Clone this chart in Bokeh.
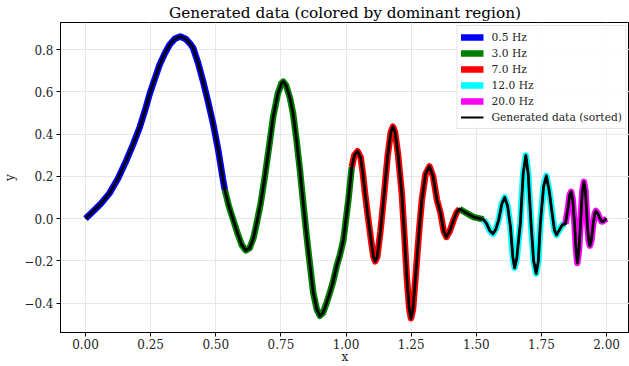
from bokeh.plotting import figure
from bokeh.models import Legend, LegendItem, FixedTicker, CustomJSTickFormatter, Range1d
from bokeh.embed import file_html
from bokeh.resources import INLINE

# ---- data ----
x_vals = [
    0.000, 0.028, 0.060, 0.092, 0.125, 0.157, 0.183, 0.208, 0.228, 0.246,
    0.266, 0.285, 0.305, 0.323, 0.343, 0.364, 0.385, 0.400, 0.413, 0.432,
    0.451, 0.470, 0.490, 0.510, 0.528, 0.535,
    0.550, 0.567, 0.585, 0.600, 0.615, 0.630, 0.645, 0.657, 0.672, 0.688,
    0.704, 0.720, 0.738, 0.752, 0.759, 0.770, 0.785, 0.797, 0.810, 0.823,
    0.836, 0.849, 0.862, 0.874, 0.888, 0.900, 0.912, 0.925, 0.938, 0.950,
    0.964, 0.977, 0.990, 1.009, 1.022,
    1.032, 1.044, 1.056, 1.064, 1.073, 1.085, 1.098, 1.105, 1.112, 1.120,
    1.132, 1.144, 1.160, 1.172, 1.180, 1.188, 1.200, 1.214, 1.225, 1.233,
    1.242, 1.249, 1.257, 1.272, 1.281, 1.291, 1.305, 1.320, 1.334, 1.349,
    1.362, 1.375, 1.385, 1.398, 1.413, 1.425, 1.436,
    1.450, 1.464, 1.490, 1.515, 1.528,
    1.540, 1.552, 1.564, 1.575, 1.586, 1.598, 1.609, 1.620, 1.631, 1.640,
    1.647, 1.655, 1.669, 1.680, 1.690, 1.699, 1.710, 1.720, 1.730, 1.738,
    1.746, 1.758, 1.769, 1.780, 1.791, 1.800, 1.808, 1.818, 1.830, 1.842,
    1.852, 1.858, 1.864, 1.870, 1.877, 1.883, 1.888, 1.894, 1.900, 1.907,
    1.913, 1.919, 1.926, 1.931, 1.936, 1.942, 1.949, 1.955, 1.959, 1.966,
    1.974, 1.980, 1.985, 1.992, 2.000,
]
y_vals = [
    0.000, 0.033, 0.072, 0.120, 0.190, 0.276, 0.352, 0.432, 0.510, 0.589,
    0.662, 0.730, 0.783, 0.823, 0.851, 0.862, 0.850, 0.830, 0.808, 0.737,
    0.651, 0.555, 0.448, 0.320, 0.182, 0.135,
    0.060, -0.006, -0.075, -0.125, -0.150, -0.140, -0.090, -0.022, 0.070, 0.197,
    0.335, 0.479, 0.590, 0.640, 0.648, 0.630, 0.570, 0.495, 0.370, 0.229,
    0.070, -0.085, -0.225, -0.350, -0.430, -0.460, -0.445, -0.400, -0.350, -0.300,
    -0.225, -0.170, -0.100, 0.088, 0.244,
    0.300, 0.319, 0.290, 0.220, 0.119, 0.000, -0.120, -0.180, -0.202, -0.180,
    -0.060, 0.088, 0.300, 0.410, 0.435, 0.410, 0.300, 0.119, -0.100, -0.272,
    -0.420, -0.472, -0.430, -0.194, -0.050, 0.088, 0.210, 0.247, 0.200, 0.088,
    0.030, -0.060, -0.087, -0.060, -0.006, 0.030, 0.046,
    0.035, 0.025, 0.007, 0.000, -0.005,
    -0.025, -0.058, -0.072, -0.050, -0.006, 0.070, 0.100, 0.060, -0.038, -0.180,
    -0.233, -0.190, -0.022, 0.213, 0.299, 0.213, -0.022, -0.200, -0.260, -0.200,
    -0.022, 0.150, 0.202, 0.130, 0.025, -0.055, -0.077, -0.055, -0.030, -0.025,
    0.050, 0.110, 0.127, 0.090, -0.022, -0.150, -0.210, -0.150, -0.022, 0.130,
    0.174, 0.130, -0.022, -0.100, -0.128, -0.100, -0.022, 0.025, 0.036, 0.025,
    0.002, -0.012, -0.014, -0.007, 0.000,
]

region_names = ["0.5 Hz", "3.0 Hz", "7.0 Hz", "12.0 Hz", "20.0 Hz"]
region_colors = ["#0000ff", "#008000", "#ff0000", "#00ffff", "#ff00ff"]
seg_start = [0.000, 0.535, 1.022, 1.436, 1.528, 1.842]
seg_end = [0.535, 1.022, 1.436, 1.528, 1.842, 2.000]
seg_region = [0, 1, 2, 1, 3, 4]

x_ticks = [0.0, 0.25, 0.5, 0.75, 1.0, 1.25, 1.5, 1.75, 2.0]
y_ticks = [-0.4, -0.2, 0.0, 0.2, 0.4, 0.6, 0.8]

FONT = "DejaVu Serif"

p = figure(
    width=629, height=366,
    output_backend="svg", toolbar_location=None,
    x_range=Range1d(-0.096, 2.088), y_range=Range1d(-0.539, 0.928),
    title="Generated data (colored by dominant region)",
    min_border_left=0, min_border_right=0, min_border_top=0, min_border_bottom=0,
)

p.title.text_font = FONT
p.title.text_font_size = "15.3px"
p.title.text_font_style = "normal"
p.title.align = "center"
p.title.standoff = 2
p.title.text_color = "black"

p.background_fill_color = "white"
p.border_fill_color = "white"
p.outline_line_color = "black"
p.outline_line_width = 1

for ax in (p.xaxis[0], p.yaxis[0]):
    ax.axis_line_color = "black"
    ax.axis_line_width = 1
    ax.major_tick_line_color = "black"
    ax.major_tick_in = 0
    ax.major_tick_out = 4
    ax.minor_tick_line_color = None
    ax.major_label_text_font = FONT
    ax.major_label_text_font_size = "12px"
    ax.major_label_text_color = "#222222"
    ax.axis_label_text_font = FONT
    ax.axis_label_text_font_size = "12px"
    ax.axis_label_text_font_style = "normal"
    ax.axis_label_text_color = "#222222"

p.xaxis.axis_label = "x"
p.yaxis.axis_label = "y"
p.xaxis.ticker = FixedTicker(ticks=x_ticks)
p.yaxis.ticker = FixedTicker(ticks=y_ticks)
p.xaxis.formatter = CustomJSTickFormatter(code="return tick.toFixed(2).replace('-', '\\u2212');")
p.yaxis.formatter = CustomJSTickFormatter(code="return tick.toFixed(1).replace('-', '\\u2212');")
p.xaxis.major_label_standoff = 2
p.xaxis.axis_label_standoff = -2
p.yaxis.major_label_standoff = 3
p.yaxis.axis_label_standoff = 4

p.grid.grid_line_color = "#e7e7e7"
p.grid.grid_line_width = 1

# colored bands per dominant region
band_renderers = []
for s, e, r in zip(seg_start, seg_end, seg_region):
    xs = [x for x in x_vals if s - 1e-9 <= x <= e + 1e-9]
    ys = [y for x, y in zip(x_vals, y_vals) if s - 1e-9 <= x <= e + 1e-9]
    rr = p.line(xs, ys, line_color=region_colors[r], line_width=6.5,
                line_join="round", line_cap="butt")
    band_renderers.append((r, rr))

# thin black line (used for the legend entry), covered by the main line
legend_line = p.line(x_vals, y_vals, line_color="black", line_width=1.8,
                     line_join="round")
# black data line on top
main_line = p.line(x_vals, y_vals, line_color="black", line_width=2.8,
                   line_join="round")

# legend entries (first band segment of each region)
items = []
for idx, name in enumerate(region_names):
    rr = [b for r, b in band_renderers if r == idx][0]
    items.append(LegendItem(label=name, renderers=[rr]))
items.append(LegendItem(label="Generated data (sorted)", renderers=[legend_line]))

legend = Legend(items=items, location="top_right")
legend.margin = 3
legend.padding = 3
legend.spacing = 0
legend.label_height = 16
legend.glyph_height = 16
legend.glyph_width = 23
legend.label_standoff = 8
legend.label_text_font = FONT
legend.label_text_font_size = "10.7px"
legend.label_text_color = "#222222"
legend.border_line_color = "#cccccc"
legend.border_line_width = 1
legend.background_fill_color = "white"
legend.background_fill_alpha = 0.85
p.add_layout(legend)

open("out.html", "w").write(file_html(p, INLINE))
